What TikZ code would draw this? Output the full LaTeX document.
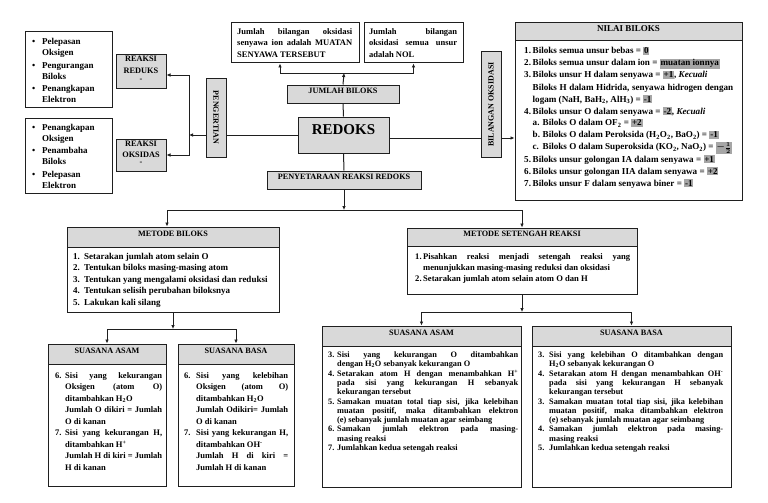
\documentclass[tikz,border=0pt]{standalone}
\usepackage{fontspec}
\setmainfont{Liberation Serif}
\usetikzlibrary{arrows.meta,fit}
\definecolor{boxgray}{HTML}{D9D9D9}
\definecolor{hlgray}{HTML}{A6A6A6}
\definecolor{linec}{HTML}{1F1F1F}
\newcommand\fsz[2]{\fontsize{#1}{#2}\selectfont\bfseries}
\newcommand\itmF[2]{\noindent\hangindent=#1\hangafter=1\makebox[#1][l]{#2}\ignorespaces}
\newcommand\itm[2]{\par\itmF{#1}{#2}}
\newcommand\subitm[3]{\par\noindent\hspace*{#1}\makebox[#2][l]{#3}\ignorespaces}
\newcommand\bitmF{\noindent\hangindent=10pt\hangafter=1\makebox[10pt][l]{\textbullet}\ignorespaces}
\newcommand\bitm{\par\vspace{1.5pt}\bitmF}
\newcommand\hlt[1]{{\setlength\fboxsep{0.8pt}\colorbox{hlgray}{#1}}}
\newcommand\sbs[1]{\textsubscript{#1}}
\newcommand\sps[1]{\textsuperscript{#1}}
\hyphenpenalty=10000
\begin{document}
\begin{tikzpicture}[x=1pt,y=-1pt,
  ln/.style={draw=linec, line width=1pt},
  arr/.style={ln, -{Latex[length=4pt,width=3.6pt]}},
  bx/.style={draw=linec, line width=1pt, inner sep=0pt, fill=white},
  gbx/.style={bx, fill=boxgray},
  txt/.style={anchor=base west, inner sep=0pt, align=justify}]
\useasboundingbox[fill=white] (0,0) rectangle (768,503);

% ---- left: pengertian ----
\node[bx, fit={(25,32)(112,107)}] (bulA) {};
\node[txt, text width=80pt, font=\fsz{9}{11}] (bulAt) at (32,45)
 {\bitmF Pelepasan\newline Oksigen\bitm Pengurangan\newline Biloks\bitm Penangkapan\newline Elektron\par};
\node[bx, fit={(25,118)(112,193)}] (bulB) {};
\node[txt, text width=80pt, font=\fsz{9}{11}] (bulBt) at (32,130)
 {\bitmF Penangkapan\newline Oksigen\bitm Penambaha\newline Biloks\bitm Pelepasan\newline Elektron\par};

\node[gbx, fit={(116,55)(166,88)}, align=center, font=\fsz{8.3}{12}] (reduks) {REAKSI\\REDUKS\\[-4pt]-};
\node[gbx, fit={(116,139)(166,171)}, align=center, font=\fsz{8.3}{11}] (oksidas) {REAKSI\\OKSIDAS\\[-4pt]-};

\node[gbx, fit={(206,78)(226,157)}] (peng) {};
\node[rotate=-90, font=\fsz{8}{10}, inner sep=0pt] (pengt) at (peng.center) {PENGERTIAN};

% ---- centre ----
\node[gbx, fit={(298,117)(389,153)}, font=\fsz{15}{18}] (redoks) {REDOKS};
\node[gbx, fit={(287,85)(399,103)}, font=\fsz{8.2}{10}] (jb) {JUMLAH BILOKS};
\node[bx, fit={(231,23)(359,63)}] (tbA) {};
\node[txt, text width=115pt, font=\fsz{8.5}{11}] (tbAt) at (237,35)
 {Jumlah bilangan oksidasi\linebreak senyawa ion adalah MUATAN\linebreak SENYAWA TERSEBUT\par};
\node[bx, fit={(364,23)(463,63)}] (tbB) {};
\node[txt, text width=88pt, font=\fsz{8.5}{11}] (tbBt) at (369,35)
 {Jumlah bilangan\linebreak oksidasi semua unsur\linebreak adalah NOL\par};
\node[gbx, fit={(267,171)(421,189)}, font=\fsz{8.2}{10}] (peny) {PENYETARAAN REAKSI REDOKS};
\node[gbx, fit={(481,52)(501,157)}] (bil) {};
\node[rotate=90, font=\fsz{8}{10}, inner sep=0pt] (bilt) at (bil.center) {BILANGAN OKSIDASI};

% ---- nilai biloks ----
\node[gbx, fit={(515,23)(742,41)}, font=\fsz{9}{11}] (nilH) {NILAI BILOKS};
\node[bx, fit={(515,41)(742,200)}] (nilB) {};
\node[txt, text width=209pt, font=\fsz{9.1}{12}] (nilT) at (524,54)
 {\itmF{8.5pt}{1.}Biloks semua unsur bebas = \hlt{0}
  \itm{8.5pt}{2.}Biloks semua unsur dalam ion = \hlt{muatan ionnya}
  \itm{8.5pt}{3.}Biloks unsur H dalam senyawa = \hlt{+1}, \textit{Kecuali}\newline
   Biloks H dalam Hidrida, senyawa hidrogen dengan\linebreak logam (NaH, BaH\sbs{2}, AlH\sbs{3}) = \hlt{-1}
  \itm{8.5pt}{4.}Biloks unsur O dalam senyawa = \hlt{-2}, \textit{Kecuali}
  \subitm{8.5pt}{10pt}{a.}Biloks O dalam OF\sbs{2} = \hlt{+2}
  \subitm{8.5pt}{10pt}{b.}Biloks O dalam Peroksida (H\sbs{2}O\sbs{2}, BaO\sbs{2}) = \hlt{-1}
  \subitm{8.5pt}{10pt}{c.}Biloks O dalam Superoksida (KO\sbs{2}, NaO\sbs{2}) = \hlt{{\boldmath$-\frac{1}{2}$}}
  \itm{8.5pt}{5.}Biloks unsur golongan IA dalam senyawa = \hlt{+1}
  \itm{8.5pt}{6.}Biloks unsur golongan IIA dalam senyawa = \hlt{+2}
  \itm{8.5pt}{7.}Biloks unsur F dalam senyawa biner = \hlt{-1}\par};

% ---- metode biloks ----
\node[gbx, fit={(67,227)(279,247)}, font=\fsz{8.2}{10}] (mbH) {METODE BILOKS};
\node[bx, fit={(67,247)(279,312)}] (mbB) {};
\node[txt, text width=200pt, font=\fsz{9}{11.5}] (mbT) at (73,259)
 {\itmF{11pt}{1.}Setarakan jumlah atom selain O
  \itm{11pt}{2.}Tentukan biloks masing-masing atom
  \itm{11pt}{3.}Tentukan yang mengalami oksidasi dan reduksi
  \itm{11pt}{4.}Tentukan selisih perubahan biloksnya
  \itm{11pt}{5.}Lakukan kali silang\par};

% ---- metode setengah reaksi ----
\node[gbx, fit={(407,228)(637,246)}, font=\fsz{8.2}{10}] (msH) {METODE SETENGAH REAKSI};
\node[bx, fit={(407,246)(637,294)}] (msB) {};
\node[txt, text width=215pt, font=\fsz{8.6}{11.3}] (msT) at (415,259)
 {\itmF{8pt}{1.}Pisahkan reaksi menjadi setengah reaksi yang\linebreak menunjukkan masing-masing reduksi dan oksidasi
  \itm{8pt}{2.}Setarakan jumlah atom selain atom O dan H\par};

% ---- left suasana ----
\node[gbx, fit={(48,344)(166,364)}, font=\fsz{8.2}{10}] (asLH) {SUASANA ASAM};
\node[bx, fit={(48,364)(166,486)}] (asLB) {};
\node[txt, text width=107pt, font=\fsz{8.5}{11.5}] (asLT) at (55,378)
 {\itmF{10pt}{6.}Sisi yang kekurangan\linebreak Oksigen (atom O)\linebreak ditambahkan H\sbs{2}O\newline Jumlah O dikiri = Jumlah\linebreak O di kanan
  \itm{10pt}{7.}Sisi yang kekurangan H,\linebreak ditambahkan H\sps{+}\newline Jumlah H di kiri = Jumlah\linebreak H di kanan\par};
\node[gbx, fit={(178,344)(294,364)}, font=\fsz{8.2}{10}] (bsLH) {SUASANA BASA};
\node[bx, fit={(178,364)(294,486)}] (bsLB) {};
\node[txt, text width=104pt, font=\fsz{8.5}{11.5}] (bsLT) at (184,378)
 {\itmF{12pt}{6.}Sisi yang kelebihan\linebreak Oksigen (atom O)\linebreak ditambahkan H\sbs{2}O\newline Jumlah Odikiri= Jumlah\linebreak O di kanan
  \itm{12pt}{7.}Sisi yang kekurangan H,\linebreak ditambahkan OH\sps{-}\newline Jumlah H di kiri =\linebreak Jumlah H di kanan\par};

% ---- right suasana ----
\node[gbx, fit={(322,326)(521,346)}, font=\fsz{8.2}{10}] (asRH) {SUASANA ASAM};
\node[bx, fit={(322,346)(521,487)}] (asRB) {};
\node[txt, text width=190pt, font=\fsz{8.3}{9.3}] (asRT) at (328,357.5)
 {\itmF{9pt}{3.}Sisi yang kekurangan O ditambahkan\linebreak dengan H\sbs{2}O sebanyak kekurangan O
  \itm{9pt}{4.}Setarakan atom H dengan menambahkan H\sps{+}\linebreak pada sisi yang kekurangan H sebanyak\linebreak kekurangan tersebut
  \itm{9pt}{5.}Samakan muatan total tiap sisi, jika kelebihan\linebreak muatan positif, maka ditambahkan elektron\linebreak (e) sebanyak jumlah muatan agar seimbang
  \itm{9pt}{6.}Samakan jumlah elektron pada masing-\linebreak masing reaksi
  \itm{9pt}{7.}Jumlahkan kedua setengah reaksi\par};
\node[gbx, fit={(532,326)(731,346)}, font=\fsz{8.2}{10}] (bsRH) {SUASANA BASA};
\node[bx, fit={(532,346)(731,487)}] (bsRB) {};
\node[txt, text width=185pt, font=\fsz{8.3}{9.3}] (bsRT) at (538,357.5)
 {\itmF{11pt}{3.}Sisi yang kelebihan O ditambahkan dengan\linebreak H\sbs{2}O sebanyak kekurangan O
  \itm{11pt}{4.}Setarakan atom H dengan menambahkan OH\sps{-}\linebreak pada sisi yang kekurangan H sebanyak\linebreak kekurangan tersebut
  \itm{11pt}{3.}Samakan muatan total tiap sisi, jika kelebihan\linebreak muatan positif, maka ditambahkan elektron\linebreak (e) sebanyak jumlah muatan agar seimbang
  \itm{11pt}{4.}Samakan jumlah elektron pada masing-\linebreak masing reaksi
  \itm{11pt}{5.}Jumlahkan kedua setengah reaksi\par};

% ---- connectors ----
\coordinate (jL) at (189,135);
\coordinate (jT) at (344,73);
\coordinate (jB) at (344,210);
\coordinate (jM) at (173,329);
\coordinate (jS) at (522,312);
\coordinate (rE) at ([yshift=-3pt]redoks.east);

\draw[ln] (redoks.west) -- (redoks.west -| peng.east);
\draw[arr] (peng.west |- jL) -- (jL);
\draw[arr] (jL) |- ([yshift=-3.5pt]reduks.east);
\draw[arr] (jL) |- (oksidas.east);
\draw[ln] (redoks.north) -- (jb.south);
\draw[arr] (jb.north) -- (jT);
\draw[arr] (jT) -| ([xshift=-15pt]tbA.south);
\draw[arr] (jT) -| (tbB.south);
\draw[ln] (rE) -- (rE -| bil.west);
\draw[arr] (rE -| bil.east) -- (rE -| nilB.west);
\draw[ln] (redoks.south) -- (peny.north);
\draw[arr] (peny.south) -- (jB);
\draw[arr] (jB) -| ([xshift=-6pt]mbH.north);
\draw[arr] (jB) -| (msH.north);
\draw[arr] (mbB.south) -- (jM);
\draw[arr] (jM) -| (asLH.north);
\draw[arr] (jM) -| (bsLH.north);
\draw[arr] (msB.south) -- (jS);
\draw[arr] (jS) -| (asRH.north);
\draw[arr] (jS) -| (bsRH.north);
\end{tikzpicture}
\end{document}
